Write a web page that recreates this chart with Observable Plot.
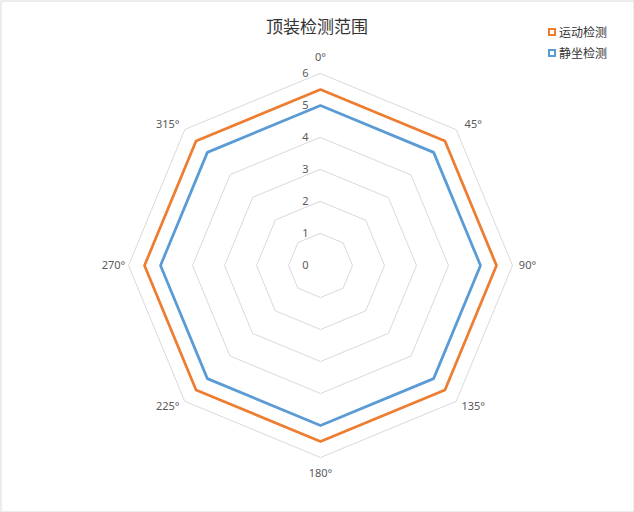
<!DOCTYPE html>
<html>
<head>
<meta charset="utf-8">
<script src="https://cdn.jsdelivr.net/npm/d3@7"></script>
<script src="https://cdn.jsdelivr.net/npm/@observablehq/plot@0.6"></script>
<style>
  html, body { margin: 0; padding: 0; background: #fff; }
  #wrap { position: relative; width: 634px; height: 512px; font-family: "Liberation Sans", "Noto Sans CJK SC", sans-serif; }
  #title { position: absolute; top: 13px; left: 0; width: 634px; text-align: center; font-family: "Noto Sans CJK SC", sans-serif; font-size: 17px; color: #333; line-height: 26px; }
  #legend { position: absolute; left: 548px; top: 22px; font-family: "Noto Sans CJK SC", sans-serif; font-size: 12px; color: #333; }
  .item { display: flex; align-items: center; height: 20px; line-height: 20px; margin-bottom: 1px; }
  .sw { width: 4px; height: 4px; border: 2px solid; margin-right: 3px; background: #fff; }
  svg { position: absolute; left: 0; top: 0; }
</style>
</head>
<body>
<div id="wrap">
  <div id="chart"></div>
  <div id="title"></div>
  <div id="legend"></div>
</div>
<script>
// ---- data ----
const titleText = "顶装检测范围";
const angles = [0, 45, 90, 135, 180, 225, 270, 315];
const angleLabels = ["0°", "45°", "90°", "135°", "180°", "225°", "270°", "315°"];
const seriesNames = ["运动检测", "静坐检测"];
const motionValues = [5.5, 5.5, 5.5, 5.5, 5.5, 5.5, 5.5, 5.5];
const sittingValues = [5, 5, 5, 5, 5, 5, 5, 5];
const seriesColors = ["#ED7D31", "#5B9BD5"];
const gridLevels = [1, 2, 3, 4, 5, 6];
const tickValues = [0, 1, 2, 3, 4, 5, 6];
const maxValue = 6;

const rad = a => a * Math.PI / 180;
const px = (r, a) => r * Math.sin(rad(a));
const py = (r, a) => r * Math.cos(rad(a));

const W = 634, H = 512, cx = 320, cy = 265, unit = 32;

const gridData = gridLevels.flatMap(l => angles.map(a => ({level: l, angle: a})));
const seriesData = [
  ...angles.map((a, i) => ({series: seriesNames[0], angle: a, value: motionValues[i]})),
  ...angles.map((a, i) => ({series: seriesNames[1], angle: a, value: sittingValues[i]}))
];
const labelData = angles.map((a, i) => ({angle: a, label: angleLabels[i]}));

// label offset (in pixels) from the outer vertex, like the spreadsheet's category labels
const sgn = v => (Math.abs(v) < 1e-9 ? 0 : Math.sign(v));
const labelOffset = a => {
  const s = sgn(Math.sin(rad(a))), c = sgn(Math.cos(rad(a)));
  const diagonal = s !== 0 && c !== 0;
  return {ox: s * (diagonal ? 17 : 15), oy: c * (diagonal ? 5.5 : 16)};
};

const chart = Plot.plot({
  width: W,
  height: H,
  margin: 0,
  style: {background: "transparent", overflow: "visible"},
  x: {domain: [-cx / unit, (W - cx) / unit], axis: null},
  y: {domain: [-(H - cy) / unit, cy / unit], axis: null},
  color: {domain: seriesNames, range: seriesColors},
  marks: [
    Plot.frame({stroke: "#d9d9d9", inset: 0.5}),
    Plot.line(gridData, {
      x: d => px(d.level, d.angle), y: d => py(d.level, d.angle), z: "level",
      curve: "linear-closed", stroke: "#d9d9d9", strokeWidth: 1
    }),
    Plot.text(tickValues, {
      x: 0, y: d => d, text: d => String(d), dx: -15,
      fill: "#595959", fontSize: 11, textAnchor: "middle"
    }),
    Plot.line(seriesData, {
      x: d => px(d.value, d.angle), y: d => py(d.value, d.angle), z: "series",
      stroke: "series", curve: "linear-closed", strokeWidth: 2.75, strokeLinejoin: "miter"
    }),
    Plot.text(labelData, {
      x: d => px(maxValue, d.angle) + labelOffset(d.angle).ox / unit,
      y: d => py(maxValue, d.angle) + labelOffset(d.angle).oy / unit,
      text: "label", fill: "#595959", fontSize: 11, textAnchor: "middle"
    })
  ]
});
document.getElementById("chart").appendChild(chart);

document.getElementById("title").textContent = titleText;
const legend = document.getElementById("legend");
seriesNames.forEach((n, i) => {
  const item = document.createElement("div");
  item.className = "item";
  const sw = document.createElement("span");
  sw.className = "sw";
  sw.style.borderColor = seriesColors[i];
  const t = document.createElement("span");
  t.textContent = n;
  item.appendChild(sw);
  item.appendChild(t);
  legend.appendChild(item);
});
</script>
</body>
</html>
